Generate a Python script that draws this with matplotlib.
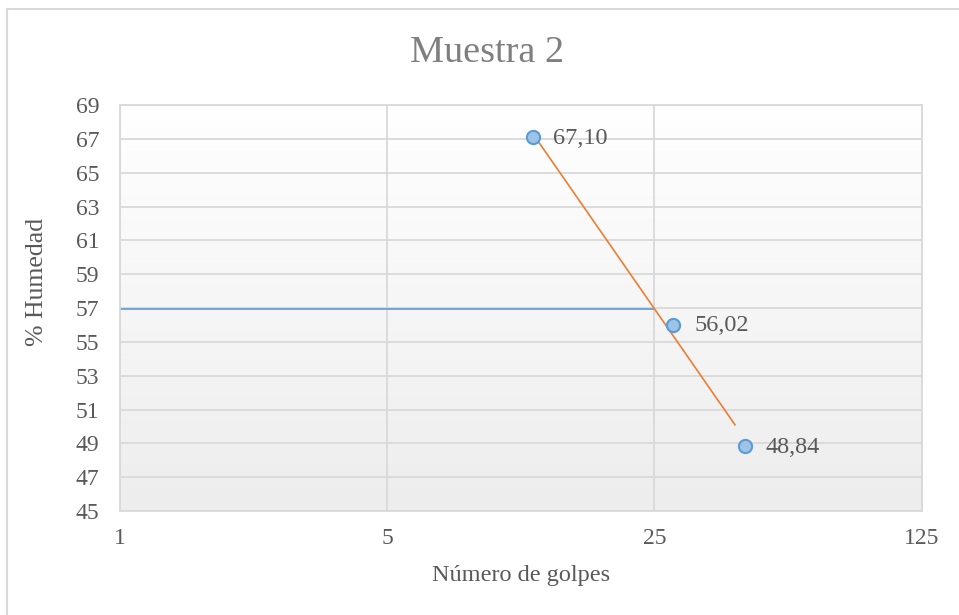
import numpy as np
import matplotlib.pyplot as plt
from matplotlib.colors import LinearSegmentedColormap
from matplotlib.lines import Line2D

plt.rcParams['font.family'] = ['Liberation Serif', 'DejaVu Serif']

# Data
golpes = [12, 28, 43]
humedad = [67.10, 56.02, 48.84]
etiquetas = ['67,10', '56,02', '48,84']
x_ticks = [1, 5, 25, 125]
y_ticks = list(range(45, 70, 2))
trend_span = [12, 40.6]   # extent of the drawn trendline
golpes_ll = 25            # liquid limit at 25 blows

# Log fit (trendline, as in Excel)
coef = np.polyfit(np.log(golpes), humedad, 1)
trend_x = np.array(trend_span)
trend_y = np.polyval(coef, np.log(trend_x))
ll = np.polyval(coef, np.log(golpes_ll))

gray_txt = '#595959'
grid_c = '#D9D9D9'

fig = plt.figure(figsize=(9.59, 6.15), dpi=100)
rect = [120 / 959, 1 - 511 / 615, (921.7 - 120) / 959, (511 - 105) / 615]

# Background gradient of the plot area
bg = fig.add_axes(rect, zorder=0)
cmap = LinearSegmentedColormap.from_list('g', ['#EDEDED', '#FFFFFF'])
bg.imshow(np.linspace(0, 1, 256).reshape(-1, 1), cmap=cmap, aspect='auto',
          origin='lower', extent=[0, 1, 0, 1])
bg.axis('off')

ax = fig.add_axes(rect, zorder=1)
ax.patch.set_alpha(0)
ax.set_xscale('log', base=5)
ax.set_xlim(x_ticks[0], x_ticks[-1])
ax.set_ylim(y_ticks[0], y_ticks[-1])
ax.set_xticks(x_ticks)
ax.set_xticklabels([str(t) for t in x_ticks])
ax.xaxis.set_minor_locator(plt.NullLocator())
ax.set_yticks(y_ticks)
ax.set_yticklabels([str(t) for t in y_ticks])
ax.tick_params(axis='both', length=0, labelsize=17, colors=gray_txt)
ax.tick_params(axis='y', pad=15)
ax.tick_params(axis='x', pad=12)
ax.grid(True, color=grid_c, linewidth=1.3, zorder=0)
ax.set_axisbelow(True)
for s in ax.spines.values():
    s.set_color(grid_c)
    s.set_linewidth(1.3)

# Liquid limit horizontal line
ax.plot([x_ticks[0], golpes_ll], [ll, ll], color='#5B9BD5', linewidth=1.2, zorder=2)
# Trendline
ax.plot(trend_x, trend_y, color='#ED7D31', linewidth=1.2, zorder=3)
# Points
ax.plot(golpes, humedad, linestyle='none', marker='o', markersize=9.5,
        markerfacecolor='#9DC3E6', markeredgecolor='#5B9BD5',
        markeredgewidth=1.5, zorder=4)
for xv, yv, t in zip(golpes, humedad, etiquetas):
    ax.annotate(t, (xv, yv), xytext=(15, -1), textcoords='offset points',
                va='center', ha='left', fontsize=17.5, color=gray_txt)

ax.set_xlabel('Número de golpes', fontsize=17.5, color=gray_txt)
ax.xaxis.set_label_coords(0.5, -(576 - 511) / 406)
ax.xaxis.label.set_va('center')
ax.set_ylabel('% Humedad', fontsize=18.5, color=gray_txt)
ax.yaxis.set_label_coords((37 - 120) / 801.7, (511 - 282) / 406)
ax.yaxis.label.set_va('center')

fig.text(487 / 959, 1 - 53 / 615, 'Muestra 2', fontsize=27.5, color='#7F7F7F',
         ha='center', va='center')

# Chart area border (top and left edges visible)
fig.add_artist(Line2D([7 / 959, 1], [1 - 9 / 615, 1 - 9 / 615],
                      transform=fig.transFigure, color=grid_c, linewidth=1.5))
fig.add_artist(Line2D([7 / 959, 7 / 959], [0, 1 - 9 / 615],
                      transform=fig.transFigure, color=grid_c, linewidth=1.5))

fig.savefig('out.png', dpi=100)
